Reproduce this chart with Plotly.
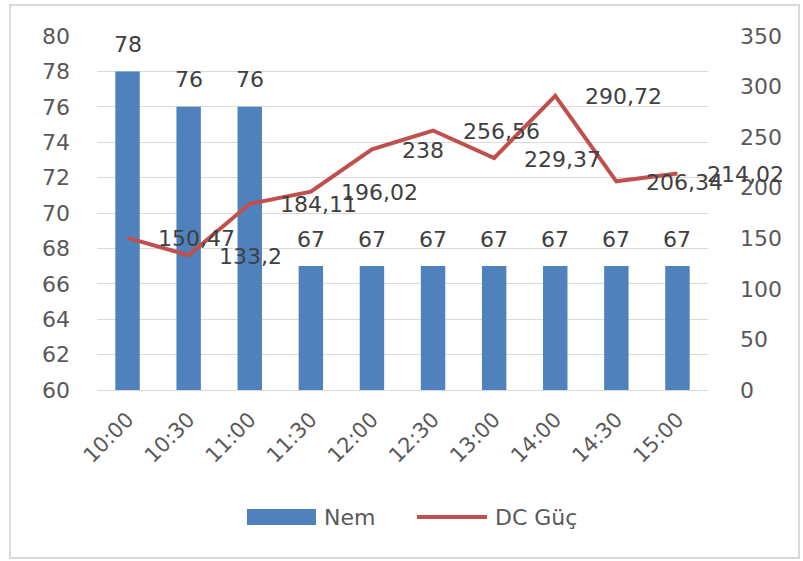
import plotly.graph_objects as go

categories = ["10:00", "10:30", "11:00", "11:30", "12:00", "12:30", "13:00", "14:00", "14:30", "15:00"]
nem = [78, 76, 76, 67, 67, 67, 67, 67, 67, 67]
dc_guc = [150.47, 133.2, 184.11, 196.02, 238, 256.56, 229.37, 290.72, 206.34, 214.02]
series_names = ["Nem", "DC Güç"]

def fmt(v):
    s = ("%.2f" % v).rstrip("0").rstrip(".")
    return s.replace(".", ",")

FONT = "DejaVu Sans"
TICK = "#595959"
LABEL = "#404040"
BLUE = "#4f81bd"
RED = "#c0504d"

fig = go.Figure()
fig.add_trace(go.Bar(
    x=categories, y=nem, name=series_names[0],
    marker=dict(color=BLUE, line=dict(width=0)),
    width=0.4, showlegend=False,
))
fig.add_trace(go.Scatter(
    x=categories, y=dc_guc, name=series_names[1], yaxis="y2",
    mode="lines",
    line=dict(color=RED, width=4),
    showlegend=False, cliponaxis=False,
))

annotations = []
for c, v in zip(categories, nem):
    annotations.append(dict(x=c, y=v, xref="x", yref="y", text=fmt(v), showarrow=False,
                            yshift=27, font=dict(family=FONT, size=22, color=LABEL)))
for c, v in zip(categories, dc_guc):
    annotations.append(dict(x=c, y=v, xref="x", yref="y2", text=fmt(v), showarrow=False,
                            xanchor="left", xshift=28, yshift=-1,
                            font=dict(family=FONT, size=22, color=LABEL)))

W, H = 803, 561
L, R, T, B = 97, 95, 36, 171
pw, ph = W - L - R, H - T - B

def px_x(x):
    return (x - L) / pw

def px_y(y):
    return (H - B - y) / ph

# manual legend (Excel style)
annotations.append(dict(x=px_x(322), y=px_y(517), xref="paper", yref="paper", text=series_names[0],
                        showarrow=False, xanchor="left", yanchor="middle",
                        font=dict(family=FONT, size=22, color=TICK)))
annotations.append(dict(x=px_x(493), y=px_y(517), xref="paper", yref="paper", text=series_names[1],
                        showarrow=False, xanchor="left", yanchor="middle",
                        font=dict(family=FONT, size=22, color=TICK)))

fig.update_layout(
    width=W, height=H,
    margin=dict(l=L, r=R, t=T, b=B),
    paper_bgcolor="white", plot_bgcolor="white",
    font=dict(family=FONT, size=20, color=TICK),
    showlegend=False,
    xaxis=dict(type="category", range=[-0.5, len(categories) - 0.5], autorange=False,
               showgrid=False, tickangle=-45,
               tickfont=dict(family=FONT, size=21, color=TICK),
               showline=True, linecolor="#d9d9d9", linewidth=1, ticks="",
               ticklabelstandoff=8),
    yaxis=dict(range=[60, 80], autorange=False, dtick=2, showgrid=True, gridcolor="#d9d9d9", gridwidth=1,
               zeroline=False, showline=False, ticks="",
               tickfont=dict(family=FONT, size=22, color=TICK), ticklabelstandoff=26),
    yaxis2=dict(range=[0, 350], autorange=False, dtick=50, overlaying="y", side="right", showgrid=False,
                zeroline=False, showline=False, ticks="",
                tickfont=dict(family=FONT, size=22, color=TICK), ticklabelstandoff=31),
    annotations=annotations,
    shapes=[
        dict(type="rect", xref="paper", yref="paper",
             x0=px_x(10), x1=px_x(799), y0=px_y(558), y1=px_y(5),
             line=dict(color="#d9d9d9", width=2), fillcolor="rgba(0,0,0,0)", layer="below"),
        dict(type="rect", xref="paper", yref="paper",
             x0=px_x(247), x1=px_x(316), y0=px_y(525), y1=px_y(509),
             line=dict(width=0), fillcolor=BLUE),
        dict(type="line", xref="paper", yref="paper",
             x0=px_x(417), x1=px_x(487), y0=px_y(517), y1=px_y(517),
             line=dict(color=RED, width=4)),
    ],
)

fig.write_html("out.html", config={"displayModeBar": False},
               post_script="document.body.style.margin='0';")
